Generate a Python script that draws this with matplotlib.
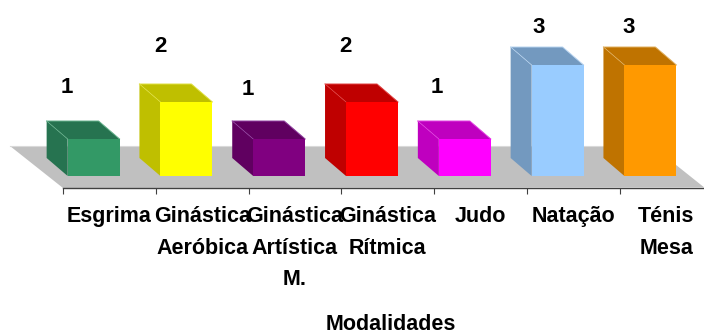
import matplotlib
matplotlib.use("Agg")
import matplotlib.pyplot as plt
from matplotlib.patches import Polygon
import numpy as np

categories = ["Esgrima", "Ginástica\nAeróbica", "Ginástica\nArtística\nM.", "Ginástica\nRítmica", "Judo", "Natação", "Ténis\nMesa"]
values = [1, 2, 1, 2, 1, 3, 3]
front_colors = ["#339966", "#FFFF00", "#800080", "#FF0000", "#FF00FF", "#99CCFF", "#FF9900"]
side_colors = ["#267350", "#BFBF00", "#600060", "#BF0000", "#BF00BF", "#7399BF", "#BF7300"]
edge_colors = ["#66B28C", "#E0E040", "#9040A0", "#E04040", "#E040E0", "#B8D4F0", "#E0B060"]
label_dx = [0.04, 0.05, -0.01, 0.04, 0.03, 0.13, 0.09]
label_dy = [1.38, 1.50, 1.35, 1.50, 1.38, 1.01, 1.01]

plt.rcParams["font.family"] = ["Liberation Sans", "DejaVu Sans"]
plt.rcParams["font.weight"] = "bold"

PX_X = 92.8
PX_Y = 37.0
X0, Y0 = 63.0, 176.0
W, H = 704, 334
fig = plt.figure(figsize=(W / 100, H / 100), dpi=100)
ax = fig.add_axes([0, 0, 1, 1])
ax.patch.set_visible(False)
ax.set_xlim(-X0 / PX_X, (W - X0) / PX_X)
ax.set_ylim((Y0 - H) / PX_Y, Y0 / PX_Y)

dx, dy = 21 / PX_X, 18 / PX_Y
bar_left, bar_w = 0.05, 0.56
axis_y = (Y0 - 188) / PX_Y

# floor
ax.add_patch(Polygon([(-53 / PX_X, dy + 12 / PX_Y), (6.35, dy + 12 / PX_Y), (W / PX_X - X0 / PX_X, axis_y + 0.02), (0, axis_y)],
                     closed=True, fc="#C0C0C0", ec="none", zorder=1))
ax.plot([-53 / PX_X, 6.35], [dy + 12 / PX_Y] * 2, color="#D9D9D9", lw=0.8, zorder=1.1)

pos = np.arange(len(values))
for i, v in enumerate(values):
    l = pos[i] + bar_left
    r = l + bar_w
    # side and top faces
    ax.add_patch(Polygon([(l, 0), (l, v), (l - dx, v + dy), (l - dx, dy)], closed=True,
                         fc=side_colors[i], ec="none", zorder=2 + i))
    ax.add_patch(Polygon([(l, v), (r, v), (r - dx, v + dy), (l - dx, v + dy)], closed=True,
                         fc=side_colors[i], ec="none", zorder=2 + i))
    ax.plot([l - dx, r - dx, r], [v + dy, v + dy, v], color=edge_colors[i], lw=0.7, zorder=2.1 + i)
    ax.plot([l - dx, l], [v + dy, v], color=edge_colors[i], lw=0.5, zorder=2.1 + i)
    ax.bar(l, v, width=bar_w, align="edge", color=front_colors[i], zorder=2.2 + i)
    ax.text(pos[i] + label_dx[i], v + label_dy[i], str(v), ha="center", va="center",
            fontsize=16, fontweight="bold", color="black", zorder=20)

for s in ["top", "left", "right"]:
    ax.spines[s].set_visible(False)
ax.spines["bottom"].set_position(("data", axis_y))
ax.spines["bottom"].set_bounds(0, (W - X0) / PX_X)
ax.spines["bottom"].set_color("#404040")
ax.spines["bottom"].set_linewidth(1.0)
ax.set_yticks([])
ax.set_xticks(np.arange(len(values)))
ax.tick_params(axis="x", which="major", length=4.5, width=0.8, color="#404040", labelbottom=False)
ax.set_xticks(pos + 0.5, minor=True)
ax.set_xticklabels(categories, minor=True, fontsize=15.5, fontweight="bold", linespacing=1.67)
ax.tick_params(axis="x", which="minor", length=0, pad=13)

ax.text(3.53, (Y0 - 329.5) / PX_Y, "Modalidades", ha="center", va="baseline", fontsize=15.5, fontweight="bold")
fig.savefig("out.png", dpi=100)
